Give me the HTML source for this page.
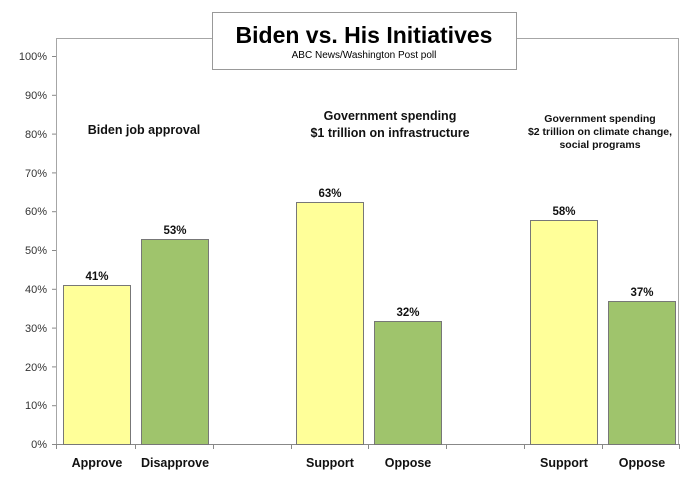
<!DOCTYPE html>
<html><head><meta charset="utf-8"><style>
body{margin:0;background:#fff;}
text{font-family:"Liberation Sans",Arial,sans-serif;}
</style></head><body>
<svg width="700" height="477" xmlns="http://www.w3.org/2000/svg">
<rect x="0" y="0" width="700" height="477" fill="#fff"/>
<rect x="56.5" y="38.5" width="622" height="406" fill="none" stroke="#a6a6a6" stroke-width="1"/>
<g stroke="#888" stroke-width="1">
<line x1="52" y1="444.5" x2="679" y2="444.5"/>
<line x1="52" y1="405.7" x2="56" y2="405.7"/><line x1="52" y1="366.9" x2="56" y2="366.9"/>
<line x1="52" y1="328.1" x2="56" y2="328.1"/><line x1="52" y1="289.3" x2="56" y2="289.3"/>
<line x1="52" y1="250.5" x2="56" y2="250.5"/><line x1="52" y1="211.7" x2="56" y2="211.7"/>
<line x1="52" y1="172.9" x2="56" y2="172.9"/><line x1="52" y1="134.1" x2="56" y2="134.1"/>
<line x1="52" y1="95.3" x2="56" y2="95.3"/><line x1="52" y1="56.5" x2="56" y2="56.5"/>
<line x1="56.5" y1="444" x2="56.5" y2="449"/><line x1="135.5" y1="444" x2="135.5" y2="449"/>
<line x1="213.5" y1="444" x2="213.5" y2="449"/><line x1="291.5" y1="444" x2="291.5" y2="449"/>
<line x1="368.5" y1="444" x2="368.5" y2="449"/><line x1="446.5" y1="444" x2="446.5" y2="449"/>
<line x1="524.5" y1="444" x2="524.5" y2="449"/><line x1="602.5" y1="444" x2="602.5" y2="449"/>
<line x1="679.5" y1="444" x2="679.5" y2="449"/>
</g>
<g font-size="11" fill="#333" text-anchor="end">
<text x="47" y="448">0%</text><text x="47" y="409">10%</text><text x="47" y="371">20%</text>
<text x="47" y="332">30%</text><text x="47" y="293">40%</text><text x="47" y="254">50%</text>
<text x="47" y="215">60%</text><text x="47" y="177">70%</text><text x="47" y="138">80%</text>
<text x="47" y="99">90%</text><text x="47" y="60">100%</text>
</g>
<g stroke="#777" stroke-width="1">
<rect x="63.5" y="285.5" width="67" height="159" fill="#ffff99"/>
<rect x="141.5" y="239.5" width="67" height="205" fill="#9fc46c"/>
<rect x="296.5" y="202.5" width="67" height="242" fill="#ffff99"/>
<rect x="374.5" y="321.5" width="67" height="123" fill="#9fc46c"/>
<rect x="530.5" y="220.5" width="67" height="224" fill="#ffff99"/>
<rect x="608.5" y="301.5" width="67" height="143" fill="#9fc46c"/>
</g>
<g font-size="12" font-weight="bold" fill="#111" text-anchor="middle">
<text x="97" y="280" font-size="11.5">41%</text><text x="175" y="234" font-size="11.5">53%</text>
<text x="330" y="197" font-size="11.5">63%</text><text x="408" y="316" font-size="11.5">32%</text>
<text x="564" y="215" font-size="11.5">58%</text><text x="642" y="296" font-size="11.5">37%</text>
<text x="97" y="467" font-size="12.5">Approve</text><text x="175" y="467" font-size="12.5">Disapprove</text>
<text x="330" y="467" font-size="12.5">Support</text><text x="408" y="467" font-size="12.5">Oppose</text>
<text x="564" y="467" font-size="12.5">Support</text><text x="642" y="467" font-size="12.5">Oppose</text>
<text x="144" y="134" font-size="12.5">Biden job approval</text>
<text x="390" y="120" font-size="12.5">Government spending</text>
<text x="390" y="137" font-size="12.5">$1 trillion on infrastructure</text>
<text x="600" y="122" font-size="10.5">Government spending</text>
<text x="600" y="135" font-size="10.5">$2 trillion on climate change,</text>
<text x="600" y="148" font-size="10.5">social programs</text>
</g>
<rect x="212.5" y="12.5" width="304" height="57" fill="#fff" stroke="#999"/>
<text x="364" y="43" font-size="23" font-weight="bold" text-anchor="middle" fill="#000">Biden vs. His Initiatives</text>
<text x="364" y="58" font-size="10" text-anchor="middle" fill="#000">ABC News/Washington Post poll</text>
</svg>
</body></html>
